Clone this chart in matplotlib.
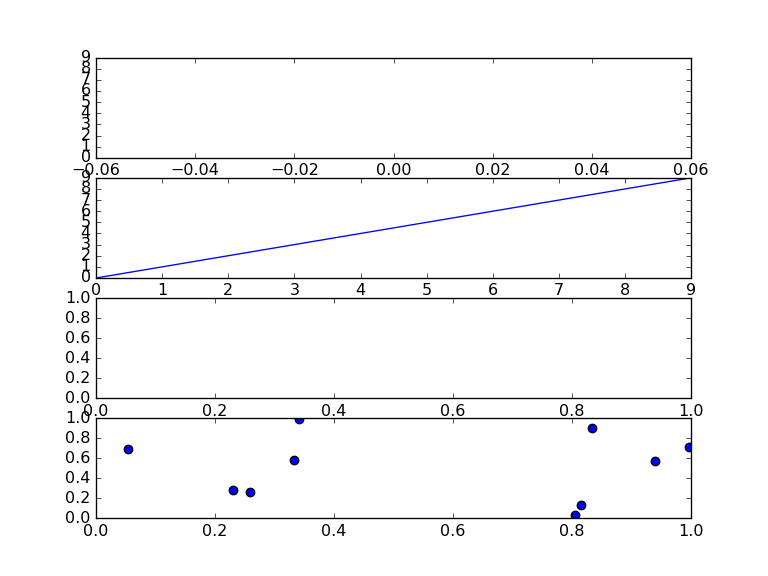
import matplotlib
matplotlib.use("Agg")
import matplotlib.pyplot as plt

plt.style.use('classic')

line_x = [0, 1, 2, 3, 4, 5, 6, 7, 8, 9]
line_y = [0, 1, 2, 3, 4, 5, 6, 7, 8, 9]

scatter_x = [0.053, 0.341, 0.230, 0.258, 0.332, 0.833, 0.815, 0.805, 0.940, 0.996]
scatter_y = [0.693, 0.993, 0.280, 0.260, 0.583, 0.903, 0.130, 0.033, 0.577, 0.713]

fig = plt.figure(figsize=(8, 6), dpi=96)

ax1 = fig.add_subplot(4, 1, 1)
ax1.set_xlim(-0.06, 0.06)
ax1.set_ylim(0, 9)
ax1.set_yticks(range(10))

ax2 = fig.add_subplot(4, 1, 2)
ax2.plot(line_x, line_y)
ax2.set_xlim(0, 9)
ax2.set_ylim(0, 9)
ax2.set_xticks(range(10))
ax2.set_yticks(range(10))

ax3 = fig.add_subplot(4, 1, 3)
ax3.set_xlim(0, 1)
ax3.set_ylim(0, 1)

ax4 = fig.add_subplot(4, 1, 4)
ax4.scatter(scatter_x, scatter_y, s=40, c='b')
ax4.set_xlim(0, 1)
ax4.set_ylim(0, 1)

fig.savefig("out.png", dpi=96)
